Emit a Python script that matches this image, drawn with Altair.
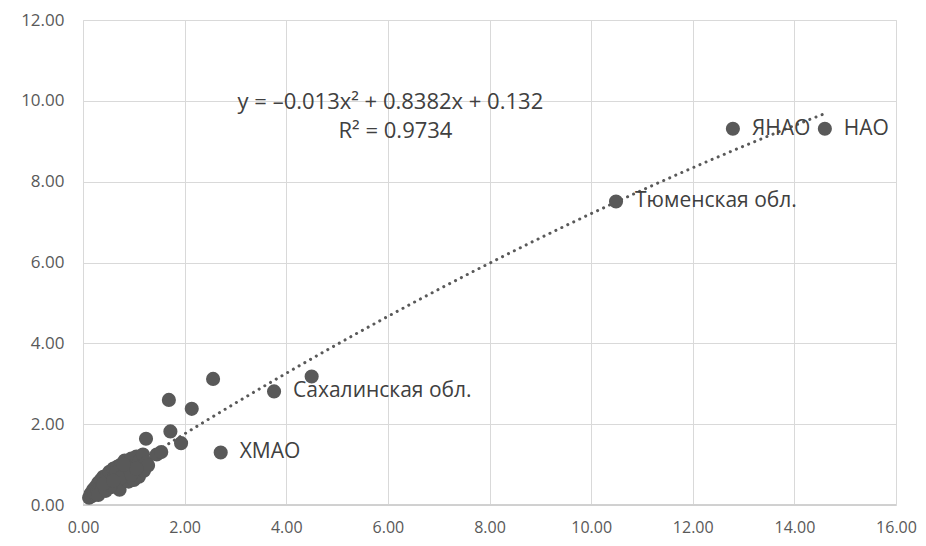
import altair as alt
import pandas as pd

# dense cluster of regions near the origin
cluster_x = [0.12, 0.15, 0.18, 0.20, 0.22, 0.25, 0.28, 0.30, 0.33, 0.35,
             0.38, 0.40, 0.42, 0.45, 0.48, 0.50, 0.52, 0.55, 0.58, 0.60,
             0.62, 0.65, 0.68, 0.70, 0.72, 0.75, 0.78, 0.80, 0.82, 0.85,
             0.88, 0.90, 0.92, 0.95, 0.98, 1.00, 1.02, 1.05, 1.08, 1.10,
             1.12, 1.15, 1.18, 1.20, 1.25, 1.28,
             0.30, 0.45, 0.55, 0.65, 0.75, 0.85, 0.95, 1.05, 0.40, 0.60, 0.80]
cluster_y = [0.18, 0.28, 0.22, 0.38, 0.30, 0.45, 0.35, 0.55, 0.42, 0.62,
             0.48, 0.70, 0.40, 0.58, 0.75, 0.50, 0.82, 0.62, 0.45, 0.90,
             0.70, 0.55, 0.95, 0.78, 0.38, 1.00, 0.65, 0.85, 1.10, 0.72,
             1.05, 0.58, 0.90, 1.15, 0.80, 0.62, 1.00, 1.20, 0.88, 0.70,
             1.10, 0.95, 1.25, 0.85, 1.05, 0.98,
             0.25, 0.35, 0.48, 0.80, 0.68, 0.95, 0.75, 0.90, 0.52, 0.60, 1.00]

# separate points (some labelled)
outer_x = [1.24, 1.45, 1.54, 1.69, 1.72, 1.93, 2.14, 2.56, 2.71, 3.76, 4.50, 10.49, 12.79, 14.60]
outer_y = [1.64, 1.25, 1.31, 2.60, 1.82, 1.53, 2.38, 3.12, 1.30, 2.81, 3.18, 7.51, 9.31, 9.31]
outer_label = ["", "", "", "", "", "", "", "", "ХМАО", "Сахалинская обл.", "",
               "Тюменская обл.", "ЯНАО", "НАО"]

equation_text = ["y = –0.013x² + 0.8382x + 0.132", "R² = 0.9734"]
equation_x = [6.05, 6.15]
equation_y = [9.98, 9.26]

df = pd.DataFrame({
    "x": cluster_x + outer_x,
    "y": cluster_y + outer_y,
    "label": [""] * len(cluster_x) + outer_label,
})
eq_df = pd.DataFrame({"t": equation_text, "x": equation_x, "y": equation_y})

FONT = "Open Sans"
GREY = "#595959"

xs = alt.X("x:Q", scale=alt.Scale(domain=[0, 16], nice=False),
           axis=alt.Axis(values=list(range(0, 17, 2)), format=".2f", title=None,
                         grid=True, ticks=False, domain=False, labelFlush=False,
                         labelPadding=14, labelFontSize=16, labelColor=GREY,
                         labelFont=FONT, gridColor="#d9d9d9"))
ys = alt.Y("y:Q", scale=alt.Scale(domain=[0, 12], nice=False),
           axis=alt.Axis(values=list(range(0, 13, 2)), format=".2f", title=None,
                         grid=True, ticks=False, domain=False, labelFlush=False,
                         labelPadding=19, labelFontSize=17, labelColor=GREY,
                         labelFont=FONT, gridColor="#d9d9d9"))

base = alt.Chart(df)

points = base.mark_circle(size=200, color=GREY, opacity=1).encode(x=xs, y=ys)

trend = base.transform_regression(
    "x", "y", method="poly", order=2, extent=[0.15, 14.6]
).mark_line(color=GREY, strokeWidth=3, strokeDash=[0.1, 6.5], strokeCap="round").encode(
    x="x:Q", y="y:Q")

labels = base.mark_text(align="left", baseline="middle", dx=19, fontSize=21,
                        font=FONT, color="#404040").encode(
    x="x:Q", y="y:Q", text="label:N")

eq = alt.Chart(eq_df).mark_text(align="center", baseline="middle", fontSize=22,
                                font=FONT, color="#404040").encode(
    x="x:Q", y="y:Q", text="t:N")

baseline = alt.Chart(df).mark_rule(color="#d0d0d0", strokeWidth=1).encode(
    x=alt.value(0), x2=alt.value(813), y=alt.value(485))

chart = alt.layer(baseline, trend, points, labels, eq).properties(
    width=813, height=485,
    autosize=alt.AutoSizeParams(type="none"),
    padding={"left": 75, "top": 12, "right": 22, "bottom": 36},
).configure_view(stroke=None).configure(background="white")

chart.save("out.html", embed_options={"renderer": "svg", "actions": False})
